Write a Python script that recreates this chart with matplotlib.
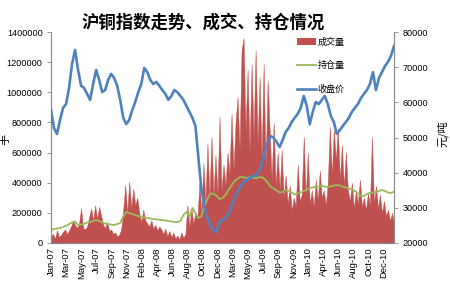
import numpy as np
import matplotlib
matplotlib.use("Agg")
import matplotlib.pyplot as plt
from matplotlib.patches import Patch
from matplotlib.lines import Line2D
from matplotlib.ticker import FuncFormatter

title = "沪铜指数走势、成交、持仓情况"
x_labels = ["Jan-07", "Mar-07", "May-07", "Jul-07", "Sep-07", "Nov-07", "Feb-08",
            "Apr-08", "Jun-08", "Aug-08", "Oct-08", "Dec-08", "Mar-09", "May-09",
            "Jul-09", "Sep-09", "Nov-09", "Jan-10", "Apr-10", "Jun-10", "Aug-10",
            "Oct-10", "Dec-10"]
n_days = 974          # trading days spanned
label_step = 43       # trading days between labels

# closing price (元/吨), sampled evenly over the period
price = [57800, 52700, 51000, 55000, 58400, 59500, 64100, 70900, 74900, 69200,
         64700, 64100, 62400, 60700, 65200, 69200, 66400, 62900, 63500, 66400,
         68100, 66900, 64700, 60700, 55600, 53800, 55000, 57800, 60100, 62900,
         65200, 69800, 68600, 66400, 65200, 65800, 64700, 63500, 62400, 60700,
         61800, 63500, 62900, 61800, 60700, 59000, 57300, 55600, 53300, 44200,
         35100, 30500, 27100, 24800, 23700, 23100, 26000, 26500, 27100, 28200,
         30500, 32800, 34500, 36200, 37300, 37900, 38500, 39100, 39100, 40200,
         42200, 45900, 48700, 50400, 49900, 48700, 47300, 49300, 51600, 52700,
         54400, 55600, 56700, 58400, 61800, 59000, 53800, 57300, 60100, 59500,
         60700, 61800, 59500, 56100, 54400, 51000, 52100, 53300, 54400, 55600,
         57300, 58400, 59500, 61200, 62400, 63500, 65200, 68600, 63500, 66900,
         68600, 70300, 71500, 73200, 76000]

# open interest (手), sampled evenly over the period
open_interest = [86300, 92900, 96200, 99500, 106200, 112800, 126100, 136000, 142700, 119400,
                 122700, 126100, 136000, 139300, 146000, 152600, 146000, 136000, 129400, 124100,
                 122700, 119400, 126100, 132700, 174500, 205700, 199100, 192400, 185800, 179100,
                 174500, 169200, 165900, 162600, 159200, 157200, 154600, 152600, 149300, 146000,
                 142700, 139300, 139300, 146000, 185800, 205700, 174500, 232200, 199100, 165900,
                 179100, 245500, 291900, 329800, 325100, 315200, 291900, 298600, 318500, 351700,
                 381500, 411400, 424600, 439900, 434600, 431300, 437900, 434600, 429300, 434600,
                 437900, 424600, 401400, 373600, 361600, 348300, 335100, 338400, 351700, 345000,
                 335100, 321800, 328400, 335100, 345000, 355000, 364900, 368200, 373600, 374900,
                 378200, 374900, 371600, 374900, 381500, 384800, 381500, 373600, 368200, 362900,
                 355000, 345000, 328400, 311800, 311800, 325100, 331800, 335100, 340400, 345000,
                 351700, 345000, 335100, 331800, 340400]

# trading volume (手), sampled evenly over the period
volume = [45000, 60000, 30000, 85000, 40000, 55000,
          75000, 90000, 60000, 85000, 110000,
          150000, 120000, 100000, 130000,
          232000,
          100000, 90000, 110000,
          170000, 230000, 150000, 250000, 160000, 240000, 180000,
          120000, 100000, 140000, 80000, 90000, 60000, 70000, 45000, 55000,
          90000,
          220000, 385000, 200000, 407000,
          230000, 360000, 250000, 300000, 200000,
          140000, 220000, 150000, 130000,
          110000, 150000, 95000, 120000, 85000, 110000, 90000,
          60000, 95000, 45000, 80000, 40000, 70000, 30000,
          50000, 25000, 70000, 35000, 60000,
          252000,
          110000, 230000, 130000, 200000, 160000,
          398000,
          200000, 530000, 265000, 660000, 300000, 705000,
          310000, 580000, 320000, 838000, 350000,
          520000, 380000, 600000,
          460000, 860000, 480000, 800000,
          970000, 620000, 1280000, 1360000, 750000,
          1150000, 600000, 1190000,
          700000, 1280000, 650000,
          1100000, 550000, 1190000, 500000, 1080000,
          750000, 420000, 800000, 380000, 600000,
          350000, 617000, 300000, 450000,
          260000, 380000, 220000, 300000, 250000,
          520000,
          280000, 320000,
          705000,
          300000,
          597000, 260000,
          350000, 240000,
          420000, 280000, 480000, 300000,
          350000, 250000, 400000,
          770000, 450000, 750000, 550000, 760000,
          420000, 650000, 380000, 600000, 350000,
          280000, 400000, 230000, 350000, 260000, 420000, 240000,
          300000, 220000, 330000, 250000,
          705000,
          260000,
          380000, 230000, 320000, 200000, 280000, 180000,
          220000, 150000, 200000, 130000]

RED = "#C0504D"
GREEN = "#9BBB59"
BLUE = "#4F81BD"
AX_GRAY = "#8C8C8C"
CJK = ["Noto Sans CJK SC", "DejaVu Sans"]
TICKF = "Liberation Sans"

fig = plt.figure(figsize=(4.5, 3.0), dpi=100)
fig.patch.set_facecolor("white")
ax = fig.add_axes([51 / 450, 1 - 243 / 300, 343 / 450, 211 / 300])
ax2 = ax.twinx()

xv = np.linspace(0, n_days, len(volume))
xp = np.linspace(0, n_days, len(price))

ax.fill_between(xv, 0, volume, color=RED, linewidth=0.3, edgecolor=RED, zorder=1)
ax.plot(xp, open_interest, color=GREEN, lw=1.3, zorder=2)
ax2.plot(xp, price, color=BLUE, lw=1.9, zorder=3)

ax.set_xlim(0, n_days)
ax.set_ylim(0, 1400000)
ax2.set_ylim(20000, 80000)
ax.set_yticks(np.arange(0, 1400001, 200000))
ax2.set_yticks(np.arange(20000, 80001, 10000))
ax.yaxis.set_major_formatter(FuncFormatter(lambda v, p: f"{int(v)}"))
ax2.yaxis.set_major_formatter(FuncFormatter(lambda v, p: f"{int(v)}"))
ax.set_xticks(np.arange(len(x_labels)) * label_step)
ax.set_xticklabels(x_labels, rotation=90, fontsize=6.8, family=TICKF)

for a in (ax, ax2):
    for s in a.spines.values():
        s.set_color(AX_GRAY)
        s.set_linewidth(0.8)
    a.spines["top"].set_visible(False)
ax.tick_params(axis="y", length=3, width=0.6, color=AX_GRAY, pad=3, labelsize=6.6)
ax2.tick_params(axis="y", length=3, width=0.6, color=AX_GRAY, pad=3, labelsize=6.6)
ax.tick_params(axis="x", length=0, pad=3)
for lab in ax.get_yticklabels() + ax2.get_yticklabels():
    lab.set_family(TICKF)

ax.set_ylabel("手", family=CJK, fontsize=8, rotation=90)
ax2.set_ylabel("元/吨", family=CJK, fontsize=8, rotation=90)
ax.yaxis.set_label_coords(-0.118, 0.49)
ax2.yaxis.set_label_coords(1.125, 0.52)

fig.text(203 / 450, 1 - 23 / 300, title, family=CJK, fontsize=12.5,
         fontweight="bold", ha="center", va="center")

handles = [Patch(facecolor=RED, edgecolor="none"),
           Line2D([], [], color=GREEN, lw=1.3),
           Line2D([], [], color=BLUE, lw=1.9)]
leg = ax.legend(handles, ["成交量", "持仓量", "收盘价"], loc="upper left",
                bbox_to_anchor=(0.70, 1.0), frameon=False,
                prop={"family": CJK, "size": 6.5}, handlelength=2.2,
                handletextpad=0.1, labelspacing=1.6, borderaxespad=0.2)
leg.set_zorder(2.5)

fig.savefig("out.png", dpi=100, facecolor="white")
